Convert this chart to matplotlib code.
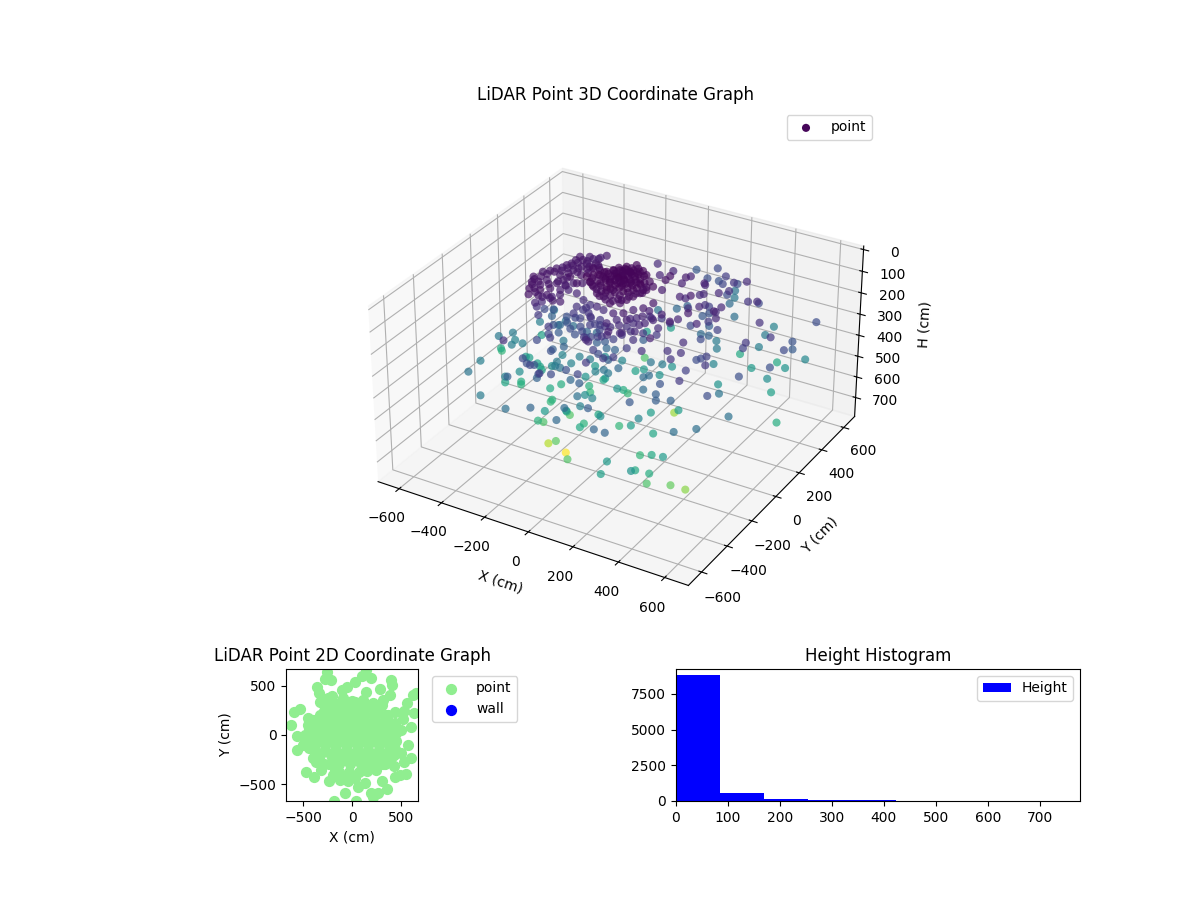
import matplotlib
matplotlib.use("Agg")
import matplotlib.pyplot as plt

# 3D points (cm)
x = [-94, -79, -56, -48, -26, -15, 17, 49, 83, 110, 106, 98, 84, 76, 63, 30, -14, -50,
     -80, -67, -36, -2, 37, 66, 4, 44, 71, -17, -35, -19, -140, -107, -125, -102,
     -16, 306, 244, 78, 121, -206, -228, -238, -249, -284, -283, -283, -292, -306, -312, -324, -344, -344,
     -327, -306, -283, -264, -255, -194, -165, -263, -229, -246, -246, -238, -220, -169, -238, -234, -208, -168,
     -138, -164, -197, -215, -224, -305, -294, -271, -248, -220, -270, -248, -291, -288,
     -136, -132, -98, -50, -23, 50, 92, 103, 138, 160, -137, -113, -49, -21, 59,
     70, 121, 129, 185, 149, -202, -245, -221, -165, -223, -96, -43, -9, 107, 125, 112, 176, 184,
     269, 226, 231, -78, -126, -106, 137, 186, 116, 83, 3, -29, 49, 54, 5, 0, 52, 171,
     256, 59, 65, 142, 78, 162, 15, 118, -76, -107, -14, 42, 61, -57, -23, -79, 103, -119,
     -64, -129, 14, -113, -154, -219, -166, 0, -69, -94, -14, -305, -349, -356, -382, -296, -187, -282,
     -437, -402, -156, -141, -105, -119, -384, -377, -334, -320, -300, -202, -132, -222, -112, -149, -185, -442,
     -172, -123, -369, -400, -428, -439, -237, -463, -554, -578, -201, -213, 6, 74, 95, -396, -403, -302, -297, -290,
     -163, -187, -78, 39, 151, 456, 483, 395, -89, -125, -97, -178, -150, 670, 306, 297, 423, 380,
     429, 311, 379, 461, 315, 134, 236, 15, 41, 54, 142, 254, 345, 300, 631, 516, 578, 324,
     277, 115, -110, -7, -96, -186, -192, 86, -9, 71, 197, 66, 9, 80, -107, -95, 75, 34,
     29, 273, 364, 387, 427, 325, 575, 512, 398, 575, 558, 601, 670, 565, 464, 632, 435, 304,
     452, 645, 658, 670, 670, 419, 436, 611, 549, 544, 537, 411, 458, 413, 292, 346, 289, 219,
     132, 28, 120, 162, 222, 247, 174, 192, 263, 232, 314, 304, 234, 226, 375, -24, 60, 156,
     151, 158, 115, 40, 116, 127, 205, 246, 213, 239, 257, 292, 288, 274, 368, 359, 259, 238,
     392, 358, 269, 347, 283, 392, 253, 311, 355, 292, 323, 368, 410, 428, 455, 499, 346, 340,
     391, 373, 175, 439, 472, 364, 199, 169, 73, 34, 165, 227, 239, -10, 225, 279, 278, 169]
y = [47, 72, 85, 123, 163, 93, 113, 110, 77, 56, 11, -24, -53, -89, -117, -137, -111, -101,
     -77, -48, -24, -5, 2, 30, -69, -61, -30, -82, 23, 48, -27, -56, -2, 10,
     319, -15, 97, 305, 315, 235, 224, 184, 157, 158, 125, 92, 70, 61, 26, -3, -25, -94,
     -133, -184, -227, -211, -176, -193, -185, -174, -180, -128, -79, -43, -21, -55, 70, 88, 104, 68,
     69, -64, -72, -104, -152, -119, -76, -14, 48, -59, -190, -214, -101, -40,
     -111, -67, -73, -102, -97, -146, -141, -84, -68, -29, -133, -124, -153, -126, -211,
     -154, -165, -104, -137, -36, -79, -61, -148, -273, 3, -151, -165, -146, -279, -223, -150, -198, -148,
     -243, -118, -115, 337, -53, -11, -230, -227, -28, -201, -130, -138, -347, -339, -289, -113, -137, -250,
     -284, -311, -284, -376, -231, -335, -19, -223, 2, -23, -175, -205, -204, -43, -86, -143, -437, -121,
     -132, -168, -436, -276, -246, -167, -214, -521, -501, -473, -579, -269, -192, -182, -257, -386, -535, -581,
     -345, -482, -473, -469, -502, -451, -100, -85, -93, -96, -115, -115, -216, -74, -342, -270, -326, 111,
     -263, -328, -145, -176, -108, -106, -480, -172, -22, 20, -129, -192, -392, -439, -484, 136, 39, -30, 9, 54,
     -162, -253, -370, -474, 163, -407, -339, -482, 340, -189, -256, -301, -384, 45, -670, -610, -648, -543,
     -523, -388, -418, -476, -295, -244, -329, -312, -384, -267, -398, -207, -152, -381, -281, -495, -434, -670,
     -670, -670, -670, -657, -418, -221, -223, -567, -402, -429, -579, -441, -292, -355, -70, -82, -159, -42,
     1, -300, -363, -403, -361, -491, -348, -137, 69, 179, 175, -148, -28, 315, 445, 355, 278, 429,
     304, 208, 185, 86, 362, 496, 387, 87, 2, -11, 136, 279, 265, 368, 395, 390, 389, 452,
     545, 556, 481, 500, 421, 500, 621, 583, 383, 465, 302, 235, 245, 266, 64, 327, 305, 235,
     285, 200, 182, 232, 144, 97, 100, 113, 131, 199, 198, 99, 154, 213, 138, 110, 243, 226,
     50, -41, 73, 74, 200, 65, 188, 146, -1, 246, 193, -163, -134, -131, -137, -227, 125, -234,
     -222, -268, 98, -269, -377, -332, -23, -61, 52, 53, 16, -219, -197, 416, -12, -46, -108, 21]
h = [15, 15, 15, 15, 20, 15, 15, 20, 25, 30, 25, 25, 30, 30, 35, 35, 30, 30,
     20, 15, 10, 10, 10, 15, 15, 15, 15, 15, 10, 10, 15, 15, 15, 15,
     300, 60, 110, 260, 240, 60, 70, 60, 60, 50, 50, 50, 50, 60, 50, 50, 50, 40,
     40, 40, 40, 80, 90, 60, 60, 40, 50, 50, 50, 50, 40, 40, 50, 50, 50, 30,
     30, 80, 70, 60, 70, 40, 50, 50, 50, 60, 110, 130, 170, 200,
     110, 100, 110, 90, 100, 70, 60, 70, 60, 50, 130, 150, 110, 130, 80,
     90, 70, 90, 80, 110, 190, 250, 200, 130, 280, 170, 140, 140, 70, 100, 110, 90, 120,
     70, 130, 100, 430, 250, 270, 90, 110, 230, 150, 220, 230, 90, 100, 120, 260, 240, 140,
     110, 150, 180, 130, 230, 140, 360, 260, 380, 420, 340, 300, 310, 460, 420, 400, 130, 330,
     320, 340, 190, 300, 320, 380, 320, 170, 200, 240, 140, 380, 480, 500, 460, 340, 230, 320,
     330, 300, 170, 190, 170, 200, 420, 430, 440, 450, 450, 350, 240, 310, 190, 230, 170, 440,
     170, 140, 330, 330, 350, 320, 110, 310, 470, 510, 480, 470, 260, 230, 160, 320, 330, 240, 300, 300,
     777, 690, 580, 570, 660, 590, 640, 560, 560, 570, 510, 560, 500, 480, 440, 420, 400, 470,
     480, 510, 470, 420, 460, 510, 430, 500, 470, 470, 380, 430, 420, 350, 290, 280, 280, 250,
     250, 260, 280, 250, 420, 500, 510, 270, 400, 340, 230, 290, 380, 340, 490, 510, 400, 480,
     520, 270, 230, 230, 240, 210, 180, 300, 400, 440, 380, 190, 190, 400, 470, 360, 420, 470,
     330, 200, 220, 170, 180, 340, 320, 130, 130, 150, 110, 120, 100, 170, 280, 100, 120, 140,
     170, 210, 190, 200, 160, 190, 300, 310, 180, 270, 110, 90, 70, 90, 70, 90, 90, 60,
     80, 70, 40, 80, 40, 60, 70, 60, 90, 100, 90, 90, 110, 150, 90, 100, 200, 210,
     90, 80, 170, 130, 230, 150, 270, 240, 170, 320, 320, 100, 180, 170, 150, 130, 350, 110,
     110, 120, 400, 150, 130, 200, 320, 300, 420, 440, 400, 270, 270, 430, 130, 80, 60, 140]

# dense core near the sensor
x_core = [-120, -110, -115, -90, -85, -80, -95, -60, -60, -55, -60, -70, -30, -30, -25, -30, -30, -35, -30,
          -5, -5, 0, 0, -5, -10, -5, 20, 20, 25, 20, 25, 25, 25, 45, 45, 50, 50, 50, 50, 75, 75, 75, 75,
          10, 15, -15, -40, -65, 40, 60, 95, 95, 85, 100, 60, 30, 0, -30, -75, -50, -40, -100, -20, 10, 35,
          -45, -70, -10, 15, 40, 5, -15, -45, -15, 10]
y_core = [-20, 10, -45, -30, 5, 35, -60, -55, -20, 15, 50, 100, -60, -35, -5, 30, 65, 100, 130,
          -40, -20, 20, 50, 80, 110, 140, -50, -30, -10, 30, 60, 90, 125, -100, -30, 0, 30, 60, 90, -70, -10, 20, 50,
          -100, -75, -95, -85, -80, -80, -50, 5, 30, -35, -10, -100, -115, -120, -115, 70, 45, 75, 40, 10, 5, 15,
          -10, -5, -65, -15, 40, 70, 35, 105, 90, 100]
h_core = [20, 15, 25, 20, 15, 15, 25, 20, 10, 10, 15, 15, 15, 10, 10, 10, 10, 15, 20,
          10, 10, 10, 10, 10, 15, 20, 10, 10, 10, 10, 10, 15, 15, 30, 15, 15, 15, 15, 15, 25, 15, 15, 20,
          25, 20, 20, 25, 25, 25, 20, 25, 25, 25, 30, 30, 35, 35, 30, 15, 10, 10, 15, 5, 5, 10,
          10, 15, 15, 10, 10, 10, 10, 15, 15, 15]

# second pass over the left arc
x_arc = [-260, -265, -270, -275, -285, -300, -315, -325, -330, -315, -295, -275, -255, -240, -215, -200, -210, -235,
         -250, -225, -200, -185, -230, -255, -220, -205, -180, -160, -290, -270, -255, -200, -195, -175, -165]
y_arc = [140, 110, 80, 50, 20, -10, -40, -70, -110, -150, -165, -190, -200, -195, -180, -130, -70, -20,
         15, 40, 75, 90, 120, 185, 195, 150, 125, 100, -130, -100, -55, -30, 20, 40, -20]
h_arc = [50, 50, 50, 50, 50, 45, 45, 45, 40, 40, 45, 45, 50, 55, 60, 65, 55, 50,
         50, 50, 45, 40, 50, 55, 60, 55, 45, 40, 45, 50, 55, 60, 45, 40, 55]

# ring just below the core
x_low = [-100, -80, -120, -60, -30, 0, 30, 60, 90, 110, 130, 150, 160, 180, -150, -175, -190, -130, -100, -70,
         -40, -10, 30, 60, 90, 120, 145, 165, 200, 215]
y_low = [-100, -115, -90, -130, -150, -165, -175, -185, -170, -120, -130, -95, -60, -75, -100, -120, -160, -170,
         -185, -180, -200, -215, -230, -250, -260, -200, -175, -145, -100, -60]
h_low = [110, 120, 130, 130, 140, 150, 120, 110, 100, 90, 100, 80, 70, 90, 170, 190, 220, 180, 190, 170,
         180, 160, 140, 120, 100, 120, 110, 90, 80, 70]

# 2D panel points
x_2d = [-255, -272, -214, -360, -340, -326, -248, -204, -622, -588, -530, -452, -401, -445, -561, -561,
        -469, -384, -367, -316, -238, -197, -122, -44, -68, 58, 34, -190, 194, 262, 211, 357,
        126, 306, 432, 483, 551, 425, 527, 602, 568, 500, 493, 602, 517, 527, 558, 619,
        653, 629, 398, 405, 381, 279, 194, 102, 143, 24, 143, -102, -54, -95, 24, 109, 211, 313, 432,
        -250, -140, -30, 80, 190, 300, -330, -220, -110, 0, 110, 220, 330,
        -360, -250, -140, -30, 80, 190, 300, 400, -480, -370, -260, -150, -40, 70, 180, 290, 400,
        -500, -390, -280, -170, -60, 50, 160, 270, 380, -330, -220, -110, 0, 110, 220, 330, 430,
        -240, -130, -20, 90, 200, 310, -130, -30, 70,
        -195, -85, 25, 135, 245, -300, -195, -85, 25, 135, 245, 355,
        -420, -305, -195, -85, 25, 135, 245, 345, -440, -335, -225, -115, -5, 105, 215, 325, 430,
        -380, -275, -165, -55, 55, 165, 275, 385, -185, -75, 35, 145, 255, 365,
        -350, -290, -200, -100, 0, 110, 250, 360, 440, 450, 450, 440, 400, 330, 240, 150, 30, -60,
        -180, -290, -400, -440, -470, -440]
y_2d = [639, 568, 561, 486, 425, 333, 374, 398, 99, 231, 265, 170, 153, 102, -10, -153,
        -381, -432, -279, -357, -473, -408, -459, -466, -595, -534, -670, -670, -595, -595, -629, -551,
        -493, -466, -425, -408, -401, -316, -272, -238, -102, -187, 51, 85, 163, 245, 323, 408,
        425, 221, 561, 510, 408, 466, 578, 602, 663, 544, 442, 459, 493, 374, 340, 357, 323, 357, 238,
        300, 300, 300, 300, 300, 300, 200, 200, 200, 200, 200, 200, 200,
        100, 100, 100, 100, 100, 100, 100, 100, 0, 0, 0, 0, 0, 0, 0, 0, 0,
        -100, -100, -100, -100, -100, -100, -100, -100, -100, -200, -200, -200, -200, -200, -200, -200, -200,
        -300, -300, -300, -300, -300, -300, -380, -380, -380,
        250, 250, 250, 250, 250, 150, 150, 150, 150, 150, 150, 150,
        50, 50, 50, 50, 50, 50, 50, 50, -50, -50, -50, -50, -50, -50, -50, -50, -50,
        -150, -150, -150, -150, -150, -150, -150, -150, -250, -250, -250, -250, -250, -250,
        150, 240, 340, 330, 350, 340, 280, 200, 120, 20, -60, -140, -230, -300, -360, -370, -440, -430,
        -350, -300, -230, -130, -60, 60]

hist_counts = [8807, 559, 140, 70, 70, 20, 12, 8, 3]
hist_edges = [0, 84.7, 169.4, 254.1, 338.8, 423.5, 508.2, 592.9, 677.6, 762.3]

fig = plt.figure(figsize=(12, 9))
gs = fig.add_gridspec(2, 2, height_ratios=[3.56, 1], hspace=0.3, wspace=0.3)

# ── 3D ───────────────────────────────────────────────────────────────────
xs = x + x_core + x_arc + x_low
ys = y + y_core + y_arc + y_low
hs = h + h_core + h_arc + h_low
ax1 = fig.add_subplot(gs[0, :], projection="3d")
ax1.scatter(xs, ys, hs, c=hs, cmap="viridis", vmin=0, vmax=777, s=34, linewidths=0, alpha=0.7, label="point")
ax1.set_xlim(-701, 701)
ax1.set_ylim(-701, 701)
ax1.set_zlim(793, -16)
ax1.view_init(elev=30, azim=-59.5)
ax1.set_box_aspect((4, 4, 2.25), zoom=1.115)
ax1.set_position([0.125, (900 - 605) / 900, 0.775, 470 / 900])
ax1.set_title("LiDAR Point 3D Coordinate Graph", pad=25)
ax1.set_xlabel("X (cm)")
ax1.set_ylabel("Y (cm)")
ax1.set_zlabel("H (cm)")
leg = ax1.legend(loc="upper right", bbox_to_anchor=(879 / 1200, 1 - 108 / 900), bbox_transform=fig.transFigure)
leg.legend_handles[0].set_alpha(1)

# ── 2D ───────────────────────────────────────────────────────────────────
ax2 = fig.add_subplot(gs[1, 0])
ax2.scatter(x_2d, y_2d, s=50, color="lightgreen", label="point")
ax2.scatter([], [], s=50, color="blue", label="wall")
ax2.set_xlim(-673, 673)
ax2.set_ylim(-673, 673)
ax2.set_aspect("equal")
ax2.set_title("LiDAR Point 2D Coordinate Graph")
ax2.set_xlabel("X (cm)")
ax2.set_ylabel("Y (cm)")
ax2.legend(loc="upper left", bbox_to_anchor=(1.05, 1))

# ── Histogram ────────────────────────────────────────────────────────────
ax3 = fig.add_subplot(gs[1, 1])
ax3.stairs(hist_counts, hist_edges, fill=True, color="blue", label="Height")
ax3.set_xlim(0, 777)
ax3.set_ylim(0, 9247)
ax3.set_title("Height Histogram")
ax3.legend(loc="upper right")

fig.savefig("out.png", dpi=100)
